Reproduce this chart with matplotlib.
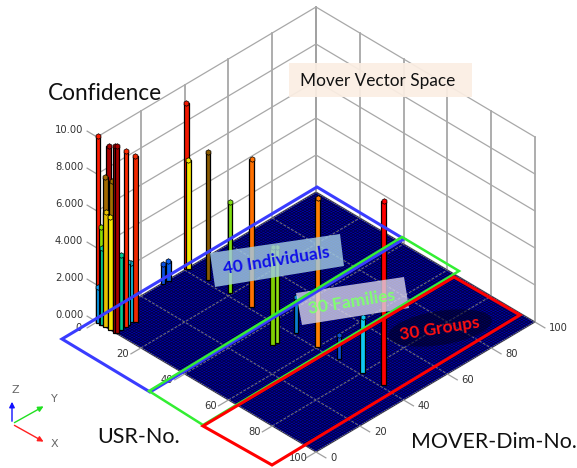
import numpy as np
import matplotlib
matplotlib.use('Agg')
import matplotlib.pyplot as plt
from matplotlib.patches import Polygon, Ellipse
from matplotlib.collections import LineCollection

plt.rcParams['font.family'] = ['Lato', 'DejaVu Sans']

# bars
usr = [0, 0.6, 2, 2.5, 3.9, 3.4, 3.8, 6, 6.1, 8.3, 8.8, 8.6, 8.5, 8.2, 7.8, 8.7,
       0.5, 0.5, 0, 0.5, 9.2, 19.2, 29.6, 49, 49.2, 49.7, 60, 69.5, 80.3, 89.8]
dim = [0.5, 0, 0, 0, 0, 0.3, 1.5, 0, 0.7, 0, 0.3, 2.4, 4.7, 6, 7.8, 8.7,
       29.6, 32, 40.7, 41.2, 41.5, 41.5, 41.1, 31.3, 33, 41.2, 40.8, 41, 41.1, 41.2]
conf = [10, 1.95, 5.3, 4.2, 6.2, 8.05, 9.7, 6.1, 8, 10.1, 10.1, 4.05, 9.5, 3.4, 3.2, 9,
        1.1, 1.1, 9, 5.9, 6.9, 4.9, 8, 5.3, 5.2, 1.95, 8.05, 1.3, 3, 9.95]
bar_colors = ['#ff1a00', '#0a9cf0', '#8fe000', '#00d8a0', '#e8c000', '#a06800', '#a80000', '#f5e600',
              '#a07000', '#a00000', '#a80000', '#00c890', '#ff2a00', '#10d0f0', '#10c0e0', '#f02800',
              '#0a50e0', '#0a60f0', '#f01800', '#f5e600', '#8a5a00', '#80e010', '#ff7000', '#80d000',
              '#90e010', '#0a80d0', '#ff8000', '#0a50d0', '#10c8f0', '#ff0000']

conf_ticks = [0, 2, 4, 6, 8, 10]
conf_labels = ['0.000', '2.000', '4.000', '6.000', '8.000', '10.00']
grid_ticks = [0, 20, 40, 60, 80, 100]

ox, oy = 97, 322
ux, uy = 2.19, 1.30
dx, dy = 2.19, -1.30
zs = 18.5


def project(u, d, z=0):
    return ox + ux * u + dx * d, oy + uy * u + dy * d - zs * z


def line(ax, a, b, **kw):
    pa = project(*a)
    pb = project(*b)
    ax.plot([pa[0], pb[0]], [pa[1], pb[1]], **kw)


fig = plt.figure(figsize=(5.77, 4.68), dpi=100)
ax = fig.add_axes([0, 0, 1, 1])
ax.set_xlim(0, 577)
ax.set_ylim(468, 0)
ax.axis('off')

# walls
for t in grid_ticks:
    line(ax, (0, t, 0), (0, t, 10), color='#a0a0a0', lw=1.2, zorder=1)
    line(ax, (t, 100, 0), (t, 100, 10), color='#a0a0a0', lw=1.2, zorder=1)
for z in conf_ticks:
    line(ax, (0, 0, z), (0, 100, z), color='#a8a8a8', lw=0.9, zorder=1)
    line(ax, (0, 100, z), (100, 100, z), color='#a8a8a8', lw=0.9, zorder=1)

# floor
corners = [project(0, 0), project(0, 100), project(100, 100), project(100, 0)]
ax.add_patch(Polygon(corners, closed=True, facecolor='#0000a8', edgecolor='#b0b0b0', lw=1.0, zorder=2))
mesh = []
for t in np.arange(0, 101, 1.0):
    mesh.append([project(t, 0), project(t, 100)])
    mesh.append([project(0, t), project(100, t)])
ax.add_collection(LineCollection(mesh, colors='#000020', linewidths=0.5, alpha=0.8, zorder=3))
for t in grid_ticks[1:-1]:
    line(ax, (t, 0), (t, 100), color='#777777', lw=0.7, ls=(0, (3, 1.5)), zorder=4)
    line(ax, (0, t), (100, t), color='#777777', lw=0.7, ls=(0, (3, 1.5)), zorder=4)

# bars, back to front
order = sorted(range(len(usr)), key=lambda i: usr[i] - dim[i])
for rank, i in enumerate(order):
    px, py = project(usr[i], dim[i])
    ptop = py - zs * conf[i]
    ax.bar(px, ptop - py, bottom=py, width=4.8, color=bar_colors[i], edgecolor='black',
           linewidth=0.9, zorder=5 + rank * 0.01)
    ax.plot(px, ptop, marker='h', ms=4.0, mfc=bar_colors[i], mec='black', mew=0.5,
            zorder=5 + rank * 0.01)

# axis ticks
tick_font = {'family': 'DejaVu Sans', 'size': 7.2, 'color': '#333333'}
for z, lab in zip(conf_ticks, conf_labels):
    line(ax, (-4.5, 0, z), (0, 0, z), color='#a0a0a0', lw=0.9, zorder=4)
    px, py = project(-4.5, 0, z)
    ax.text(px - 4, py - 1, lab, ha='right', va='center', **tick_font)
for t in grid_ticks:
    line(ax, (t, -4.5), (t, 0), color='#a0a0a0', lw=0.9, zorder=4)
    line(ax, (0 + 100, t), (104.5, t), color='#a0a0a0', lw=0.9, zorder=4)
    px, py = project(t, 0)
    ax.text(px - 18, py + 6, str(t), ha='center', va='center', zorder=4, **tick_font)
    px, py = project(100, t)
    ax.text(px + 14, py + 6, str(t), ha='left', va='center', zorder=4, **tick_font)

# overlay boxes and outlines
ax.add_patch(Polygon([(210, 253), (340, 234), (344, 266), (215, 287)], closed=True,
                     facecolor='#a2cbe4', alpha=0.82, edgecolor='none', zorder=8))
ax.add_patch(Polygon([(296, 293), (404, 277), (409, 308), (302, 325)], closed=True,
                     facecolor='#dcd8ee', alpha=0.78, edgecolor='none', zorder=8))
ax.add_patch(Ellipse((440, 328), 105, 34, angle=-9, facecolor='#000020', alpha=0.55,
                     edgecolor='none', zorder=8))
ax.add_patch(Polygon([(62, 339), (317, 187), (404, 239), (150, 392)], closed=True, fill=False,
                     edgecolor='#3a3cff', lw=2.2, zorder=9, joinstyle='miter'))
ax.add_patch(Polygon([(149, 391), (402, 237), (459, 271), (203, 425)], closed=True, fill=False,
                     edgecolor='#33ee33', lw=1.8, zorder=10, joinstyle='miter'))
ax.add_patch(Polygon([(203, 426), (454, 277), (520, 315), (272, 465)], closed=True, fill=False,
                     edgecolor='#ff0000', lw=2.2, zorder=11, joinstyle='miter'))
ax.text(276, 261, '40 Individuals', color='#1010e8', fontsize=12.5, fontweight='bold', rotation=9,
        ha='center', va='center', rotation_mode='anchor', zorder=12)
ax.text(352, 302, '30 Families', color='#80ff70', fontsize=12.5, fontweight='bold', rotation=9,
        ha='center', va='center', rotation_mode='anchor', zorder=12)
ax.text(440, 329, '30 Groups', color='#ff1010', fontsize=12.5, fontweight='bold', rotation=9,
        ha='center', va='center', rotation_mode='anchor', zorder=12)

# titles
ax.add_patch(Polygon([(289, 63), (472, 63), (472, 97), (289, 97)], closed=True,
                     facecolor='#fbeee3', alpha=0.93, edgecolor='none', zorder=8))
ax.text(300, 81, 'Mover Vector Space', fontsize=12.4, color='#111111', ha='left', va='center', zorder=12)
ax.text(48, 93, 'Confidence', fontsize=16.3, color='#111111', ha='left', va='center', zorder=12)
ax.text(97, 437, 'USR-No.', fontsize=15.5, color='#111111', ha='left', va='center', zorder=12)
ax.text(411, 442, 'MOVER-Dim-No.', fontsize=15.4, color='#111111', ha='left', va='center', zorder=12)

# orientation triad
ax.annotate('', xy=(12, 399), xytext=(12, 424), arrowprops=dict(arrowstyle='-|>', color='#1010ff', lw=1, mutation_scale=8))
ax.annotate('', xy=(46, 405), xytext=(12, 424), arrowprops=dict(arrowstyle='-|>', color='#20e020', lw=1, mutation_scale=8))
ax.annotate('', xy=(46, 443), xytext=(12, 424), arrowprops=dict(arrowstyle='-|>', color='#ff2020', lw=1, mutation_scale=8))
ax.text(15, 390, 'Z', family='DejaVu Sans', fontsize=8, color='#666666', ha='center', va='center')
ax.text(54, 399, 'Y', family='DejaVu Sans', fontsize=8, color='#666666', ha='center', va='center')
ax.text(54, 444, 'X', family='DejaVu Sans', fontsize=8, color='#666666', ha='center', va='center')

fig.savefig('out.png', dpi=100)
